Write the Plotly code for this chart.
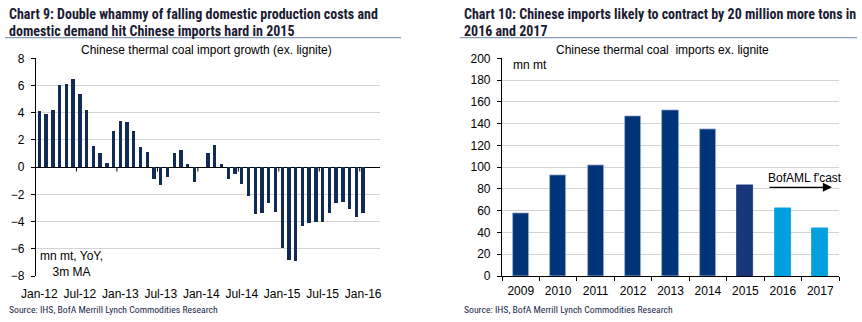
import plotly.graph_objects as go

W, H = 862, 322

# ---- Left chart data: Chinese thermal coal import growth (mn mt, YoY, 3m MA)
months = list(range(51))  # Jan-12 .. Mar-16
growth = [4.11, 3.91, 4.2, 6.04, 6.11, 6.45, 5.38, 4.2, 1.52, 1.0, 0.29, 2.64,
          3.4, 3.33, 2.64, 1.44, 1.12, -0.86, -1.37, -0.71, 1.03, 1.27, 0.24, -1.08,
          0.0, 1.03, 1.61, 0.22, -0.86, -0.49, -1.27, -2.16, -3.5, -3.38, -2.69, -3.3,
          -5.94, -6.87, -6.92, -4.36, -4.11, -4.06, -4.06, -3.38, -2.64, -2.55, -3.08, -3.67,
          -3.38]
tick_idx = [0, 6, 12, 18, 24, 30, 36, 42, 48]
tick_lbl = ["Jan-12", "Jul-12", "Jan-13", "Jul-13", "Jan-14", "Jul-14", "Jan-15", "Jul-15", "Jan-16"]

# ---- Right chart data: Chinese thermal coal imports ex. lignite (mn mt)
years = ["2009", "2010", "2011", "2012", "2013", "2014", "2015", "2016", "2017"]
imports = [57.6, 92.2, 102.0, 146.7, 152.2, 135.0, 83.6, 62.5, 44.1]
bar_colors = ["#003478"] * 6 + ["#17367c"] + ["#00a0e0"] * 2
edge_colors = ["#9fb3d3"] * 6 + ["#17367c"] + ["#00a0e0"] * 2

FONT = "Liberation Sans, Arial, sans-serif"
HFONT = "Liberation Sans Narrow, Roboto Condensed, Arial Narrow, sans-serif"

def px(x):
    return x / W

def py(y):
    return 1 - y / H

fig = go.Figure()

fig.add_trace(go.Bar(x=months[:len(growth)], y=growth, width=0.5,
                     marker=dict(color="#122b54", line=dict(width=0)),
                     xaxis="x", yaxis="y", showlegend=False))

fig.add_trace(go.Bar(x=years, y=imports, width=0.43,
                     marker=dict(color=bar_colors, line=dict(color=edge_colors, width=0.8)),
                     xaxis="x2", yaxis="y2", showlegend=False))

ydom = [py(276), py(58.3)]
fig.update_layout(
    template="none",
    width=W, height=H, margin=dict(l=0, r=0, t=0, b=0, pad=0),
    paper_bgcolor="white", plot_bgcolor="white",
    font=dict(family=FONT, size=12, color="#000000"),
    xaxis=dict(domain=[px(36), px(380)], range=[-0.5, 50.5], tickmode="array",
               tickvals=tick_idx, ticktext=tick_lbl, showgrid=False, zeroline=False,
               showline=False, ticks="outside", ticklen=4, tickcolor="rgba(0,0,0,0)",
               ticklabelstandoff=3, tickfont=dict(size=12), automargin=False),
    yaxis=dict(domain=ydom, range=[-8, 8], dtick=2, showgrid=True, gridcolor="#d4d4d4",
               gridwidth=1, zeroline=True, zerolinecolor="#000000", zerolinewidth=1.2,
               showline=True, linecolor="#000000", linewidth=1.2, ticks="outside",
               ticklen=4, tickcolor="#000000", ticklabelstandoff=4, anchor="x",
               automargin=False),
    xaxis2=dict(domain=[px(502), px(839)], type="category", range=[-0.5, 8.5],
                showgrid=False, zeroline=False, showline=True, linecolor="#000000",
                linewidth=1.2, ticks="outside", tickson="boundaries", ticklen=4,
                tickcolor="#000000", ticklabelstandoff=3, anchor="y2",
                tickfont=dict(size=12), automargin=False),
    yaxis2=dict(domain=ydom, range=[0, 200], dtick=20, showgrid=True, gridcolor="#d4d4d4",
                gridwidth=1, zeroline=False, showline=True, linecolor="#000000",
                linewidth=1.2, ticks="outside", ticklen=4, tickcolor="#000000",
                ticklabelstandoff=4, anchor="x2", automargin=False),
    bargap=0,
)

# Left chart tick marks on the zero line every 6 months (category boundaries)
for i in tick_idx[1:]:
    fig.add_shape(type="line", xref="x", yref="y", x0=i - 0.5, x1=i - 0.5,
                  y0=0, y1=-0.32, line=dict(color="#000000", width=1))

# Header rules
fig.add_shape(type="line", xref="paper", yref="paper", x0=px(5), x1=px(401),
              y0=py(37.7), y1=py(37.7), line=dict(color="#6b86a8", width=1))
fig.add_shape(type="line", xref="paper", yref="paper", x0=px(460), x1=px(857),
              y0=py(37.7), y1=py(37.7), line=dict(color="#6b86a8", width=1))

ann = []
def text(x, y, s, size=12, xanchor="left", family=FONT, color="#000000", align="left", bold=False):
    if bold:
        s = "<b>" + s + "</b>"
    ann.append(dict(x=px(x), y=py(y), xref="paper", yref="paper", text=s, showarrow=False,
                    xanchor=xanchor, yanchor="middle", align=align,
                    font=dict(family=family, size=size, color=color)))

TCOL = "#1b1b33"
text(7, 14.5, "Chart 9: Double whammy of falling domestic production costs and", size=14,
     family=HFONT, color=TCOL, bold=True)
text(7, 30.5, "domestic demand hit Chinese imports hard in 2015", size=14,
     family=HFONT, color=TCOL, bold=True)
text(462, 14.5, "Chart 10: Chinese imports likely to contract by 20 million more tons in", size=14,
     family=HFONT, color=TCOL, bold=True)
text(462, 30.5, "2016 and 2017", size=14, family=HFONT, color=TCOL, bold=True)

text(206, 50, "Chinese thermal coal import growth (ex. lignite)", xanchor="center")
text(662, 50, "Chinese thermal coal  imports ex. lignite", xanchor="center")

ann.append(dict(x=px(38), y=py(264), xref="paper", yref="paper",
                text="mn mt, YoY,<br>3m MA", showarrow=False, xanchor="left",
                yanchor="middle", align="center",
                font=dict(family=FONT, size=12, color="#000000")))
text(511, 65, "mn mt")
text(766, 178, "BofAML f'cast")

ann.append(dict(x=px(832), y=py(187.3), xref="paper", yref="paper", text="",
                showarrow=True, axref="pixel", ayref="pixel", ax=-64, ay=0,
                arrowhead=2, arrowsize=1.4, arrowwidth=1.3, arrowcolor="#000000"))

SCOL = "#1b2a4a"
text(7, 309.5, "Source: IHS, BofA Merrill Lynch Commodities Research", size=9.7,
     family=HFONT, color=SCOL)
text(462, 309.5, "Source: IHS, BofA Merrill Lynch Commodities Research", size=9.7,
     family=HFONT, color=SCOL)

fig.update_layout(annotations=ann)
fig.write_html("out.html")
